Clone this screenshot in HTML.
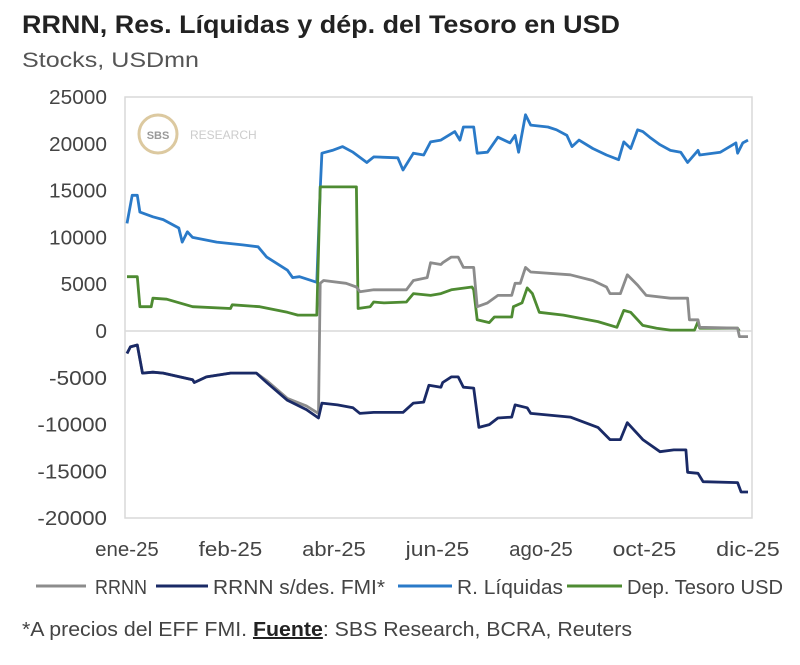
<!DOCTYPE html>
<html><head><meta charset="utf-8">
<style>
body{margin:0;background:#fff;font-family:"Liberation Sans",sans-serif;}
svg text{font-family:"Liberation Sans",sans-serif;}
</style></head>
<body>
<svg width="800" height="660" xmlns="http://www.w3.org/2000/svg">
<text x="22" y="33" font-size="25" font-weight="bold" fill="#222" textLength="598" lengthAdjust="spacingAndGlyphs">RRNN, Res. Líquidas y dép. del Tesoro en USD</text>
<text x="22" y="67" font-size="21" fill="#555" textLength="177" lengthAdjust="spacingAndGlyphs">Stocks, USDmn</text>
<rect x="125" y="97" width="627" height="421" fill="none" stroke="#d9d9d9" stroke-width="1.5"/>
<g>
<circle cx="158" cy="134" r="19" fill="#fff" stroke="#dcc9a0" stroke-width="3"/>
<text x="158" y="139" font-size="11" font-weight="bold" fill="#999" text-anchor="middle">SBS</text>
<text x="190" y="139" font-size="12" fill="#ccc">RESEARCH</text>
</g>
<g id="grid"></g><g id="yt"></g><g id="xt"></g><g id="series"></g>
<g font-size="20" fill="#444">
<line x1="36" y1="586" x2="86" y2="586" stroke="#8c8c8c" stroke-width="3"/><text x="95" y="594" textLength="52" lengthAdjust="spacingAndGlyphs">RRNN</text>
<line x1="156" y1="586" x2="208" y2="586" stroke="#1a2a66" stroke-width="3"/><text x="213" y="594" textLength="172" lengthAdjust="spacingAndGlyphs">RRNN s/des. FMI*</text>
<line x1="398" y1="586" x2="452" y2="586" stroke="#2a7ac8" stroke-width="3"/><text x="457" y="594" textLength="106" lengthAdjust="spacingAndGlyphs">R. Líquidas</text>
<line x1="567" y1="586" x2="622" y2="586" stroke="#4e8b32" stroke-width="3"/><text x="627" y="594" textLength="156" lengthAdjust="spacingAndGlyphs">Dep. Tesoro USD</text>
</g>
<text x="22" y="636" font-size="20" fill="#444" textLength="610" lengthAdjust="spacingAndGlyphs">*A precios del EFF FMI. <tspan font-weight="bold" text-decoration="underline" fill="#222">Fuente</tspan>: SBS Research, BCRA, Reuters</text>
</svg>
<script>
const yTicks=[25000,20000,15000,10000,5000,0,-5000,-10000,-15000,-20000];
const xTickLabels=["ene-25","feb-25","abr-25","jun-25","ago-25","oct-25","dic-25"];
const xTickDays=[0,60,120,180,240,300,360];
const liquidas=[[0,11500],[3,14500],[6,14500],[7.5,12700],[15,12200],[21,11900],[30,11000],[32,9500],[35,10600],[38,10000],[52,9500],[67,9200],[76,9000],[81,7900],[93,6500],[96,5700],[100,5800],[110,5200],[112,15100],[113,19000],[119,19300],[125,19700],[131,19100],[139,18000],[143,18600],[157,18500],[160,17200],[166,19000],[172,18800],[176,20200],[182,20400],[190,21300],[193,20400],[195,21800],[201,21800],[203,19000],[209,19100],[215,20700],[222,20100],[225,20900],[227,19100],[231,23100],[234,22000],[244,21800],[249,21500],[255,20900],[258,19700],[262,20400],[270,19500],[278,18800],[285,18300],[288,20200],[292,19500],[296,21500],[299,21300],[303,20700],[309,19900],[315,19300],[321,19100],[325,18000],[331,19300],[332,18800],[344,19100],[353,20100],[354,19000],[357,20100],[360,20400]];
const tesoro=[[0,5800],[6,5800],[7.5,2600],[14,2600],[15,3500],[23,3400],[38,2600],[60,2400],[61,2800],[77,2600],[93,2000],[99,1700],[110,1700],[112,15400],[133,15400],[134,2400],[141,2600],[143,3100],[149,3000],[162,3100],[166,4000],[176,3800],[182,4000],[188,4400],[200,4700],[201,4400],[203,1200],[210,900],[213,1500],[223,1500],[224,2600],[229,3000],[232,4600],[235,4000],[239,2000],[253,1700],[273,1000],[284,400],[288,2200],[292,2000],[299,600],[307,300],[315,100],[329,100],[331,1000],[332,300],[354,300],[355,0]];
const rrnn=[[0,-2400],[2,-1700],[6,-1500],[9,-4500],[15,-4400],[21,-4500],[38,-5200],[39,-5500],[46,-4900],[60,-4500],[75,-4500],[81,-5300],[93,-7200],[104,-8000],[110,-8700],[111,-8800],[112,5100],[114,5400],[127,5100],[133,4700],[135,4200],[143,4400],[162,4400],[166,5400],[174,5700],[176,7300],[182,7100],[183,7300],[188,7900],[192,7900],[195,6800],[201,6800],[203,2600],[209,3000],[215,3800],[223,3800],[225,5100],[228,5100],[231,6800],[234,6300],[257,6000],[270,5400],[278,4700],[280,4000],[286,4000],[290,6000],[296,4900],[301,3800],[315,3500],[325,3500],[326,1200],[331,1200],[332,400],[354,300],[355,-600],[360,-600]];
const rrnnFmi=[[0,-2400],[2,-1700],[6,-1500],[9,-4500],[15,-4400],[21,-4500],[38,-5200],[39,-5500],[46,-4900],[60,-4500],[75,-4500],[81,-5500],[93,-7400],[104,-8400],[111,-9300],[113,-7700],[122,-7900],[131,-8200],[135,-8800],[143,-8700],[160,-8700],[166,-7700],[172,-7600],[175,-5800],[182,-6000],[183,-5500],[188,-4900],[192,-4900],[195,-6000],[201,-6100],[204,-10300],[210,-10000],[215,-9300],[223,-9200],[225,-7900],[232,-8200],[234,-8800],[257,-9200],[273,-10300],[280,-11600],[286,-11600],[290,-9800],[299,-11600],[309,-12900],[317,-12700],[324,-12700],[325,-15100],[331,-15200],[334,-16100],[354,-16200],[356,-17200],[360,-17200]];
const NS="http://www.w3.org/2000/svg";
function xs(d){return 127+d*1.725;}
function ys(v){return 331-v*0.00936;}
function mk(tag,attrs,parent){const e=document.createElementNS(NS,tag);for(const k in attrs)e.setAttribute(k,attrs[k]);parent.appendChild(e);return e;}
const grid=document.getElementById('grid'),yt=document.getElementById('yt'),xt=document.getElementById('xt'),ser=document.getElementById('series');
const zl=mk('line',{x1:125,x2:752,y1:ys(0),y2:ys(0),stroke:'#d9d9d9','stroke-width':1.5},grid);


yTicks.forEach(v=>{const s=String(v);const t=mk('text',{x:107,y:ys(v)+7,'font-size':20,fill:'#444','text-anchor':'end',textLength:(s.length*11.6).toFixed(1),lengthAdjust:'spacingAndGlyphs'},yt);t.textContent=s;

});
xTickLabels.forEach((l,i)=>{const t=mk('text',{x:xs(xTickDays[i]),y:556,'font-size':20,fill:'#444','text-anchor':'middle',textLength:(l.length*10.6).toFixed(1),lengthAdjust:'spacingAndGlyphs'},xt);t.textContent=l;

});
function draw(data,color,name){const p=mk('polyline',{points:data.map(d=>xs(d[0]).toFixed(1)+','+ys(d[1]).toFixed(1)).join(' '),fill:'none',stroke:color,'stroke-width':2.8,'stroke-linejoin':'round'},ser);

}
draw(liquidas,'#2a7ac8','line-r-liquidas');
draw(tesoro,'#4e8b32','line-dep-tesoro');
draw(rrnn,'#8c8c8c','line-rrnn');
draw(rrnnFmi,'#1a2a66','line-rrnn-sdes-fmi');
</script>
</body></html>
